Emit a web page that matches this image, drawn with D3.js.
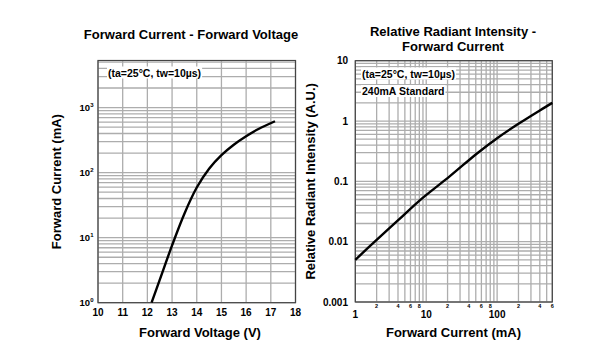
<!DOCTYPE html>
<html><head><meta charset="utf-8">
<script src="https://cdn.jsdelivr.net/npm/d3@7"></script>
<style>
body{margin:0;background:#fff;}
text{font-family:Arial,"Liberation Sans",sans-serif;}
</style></head>
<body><svg id="c" width="597" height="360"></svg>
<script>
// ---- Data ----
const vfVoltage = [12.17, 12.5, 13.0, 13.5, 14.0, 14.5, 15.0, 15.5, 16.0, 16.5, 17.17];
const vfCurrent = [1, 2.24, 7.6, 23.4, 59, 115, 186, 269, 363, 468, 617];
const vfXTicks = [10, 11, 12, 13, 14, 15, 16, 17, 18];
const vfYTicks = [0, 1, 2, 3]; // exponents
const riCurrent = [1, 2, 4.06, 8.2, 21.8, 52, 100, 200, 400, 600];
const riIntensity = [0.005, 0.0107, 0.0229, 0.049, 0.123, 0.29, 0.52, 0.9, 1.5, 2.0];
const riYTicks = [10, 1, 0.1, 0.01, 0.001];
const riYLabels = ["10", "1", "0.1", "0.01", "0.001"];
const riXMajor = [1, 10, 100];
const riXMinor = [2, 4, 6, 8, 20, 40, 60, 80, 200, 400, 600];
const noteText = "(ta=25°C, tw=10µs)";
const noteText2 = "240mA Standard";

const svg = d3.select("#c");
const gridColor = "#adadad";

function logGridValues(lo, hi) {
  const out = [];
  for (let e = Math.floor(Math.log10(lo)); e <= Math.ceil(Math.log10(hi)); e++) {
    for (let m = 1; m < 10; m++) {
      const v = m * Math.pow(10, e);
      if (v >= lo * 0.999 && v <= hi * 1.001) out.push(v);
    }
  }
  return out;
}

// ---- Left chart ----
{
  const L = 98, R = 295.5, T = 60.5, B = 302.7;
  const x = d3.scaleLinear().domain([10, 18]).range([L, R]);
  const y = d3.scaleLog().domain([1, 5300]).range([B, T]);
  const g = svg.append("g");
  g.selectAll(".hg").data(logGridValues(1, 5300)).enter().append("line")
    .attr("x1", L).attr("x2", R).attr("y1", d => y(d)).attr("y2", d => y(d))
    .attr("stroke", gridColor).attr("stroke-width", 1.3);
  g.selectAll(".vg").data(vfXTicks).enter().append("line")
    .attr("x1", d => x(d)).attr("x2", d => x(d)).attr("y1", T).attr("y2", B)
    .attr("stroke", gridColor).attr("stroke-width", 1.3);
  const nt = g.append("text").attr("x", 108).attr("y", 76.5).attr("font-size", 10.5).attr("font-weight", "bold").text(noteText);
  const bb = nt.node().getBBox();
  g.insert("rect", "text").attr("x", bb.x - 1).attr("y", bb.y).attr("width", bb.width + 2).attr("height", bb.height).attr("fill", "#fff");
  g.append("rect").attr("x", L).attr("y", T).attr("width", R - L).attr("height", B - T)
    .attr("fill", "none").attr("stroke", "#444").attr("stroke-width", 1.2);
  const line = d3.line().x(d => x(d[0])).y(d => y(d[1])).curve(d3.curveCatmullRom.alpha(0.5));
  g.append("path").datum(vfVoltage.map((v, i) => [v, vfCurrent[i]]))
    .attr("d", line).attr("fill", "none").attr("stroke", "#000").attr("stroke-width", 2.4);
  g.selectAll(".xl").data(vfXTicks).enter().append("text")
    .attr("x", d => x(d)).attr("y", 316).attr("text-anchor", "middle")
    .attr("font-size", 10).attr("font-weight", "bold").text(d => d);
  vfYTicks.forEach(e => {
    const t = g.append("text").attr("x", 93.5).attr("y", y(Math.pow(10, e)) + 3.5)
      .attr("text-anchor", "end").attr("font-size", 9.5).attr("font-weight", "bold");
    t.append("tspan").text("10");
    t.append("tspan").attr("dy", -4).attr("font-size", 6).text(e);
  });
  g.append("text").attr("x", 191).attr("y", 39).attr("text-anchor", "middle")
    .attr("font-size", 13).attr("font-weight", "bold").text("Forward Current - Forward Voltage");
  g.append("text").attr("x", 200).attr("y", 337).attr("text-anchor", "middle")
    .attr("font-size", 13).attr("font-weight", "bold").text("Forward Voltage (V)");
  g.append("text").attr("transform", `translate(61,${(T + B) / 2}) rotate(-90)`).attr("text-anchor", "middle")
    .attr("font-size", 13).attr("font-weight", "bold").text("Forward Current (mA)");
}

// ---- Right chart ----
{
  const L = 355.3, R = 552.3, T = 60.7, B = 302;
  const x = d3.scaleLog().domain([1, 600]).range([L, R]);
  const y = d3.scaleLog().domain([0.001, 10]).range([B, T]);
  const g = svg.append("g");
  g.selectAll(".hg").data(logGridValues(0.001, 10)).enter().append("line")
    .attr("x1", L).attr("x2", R).attr("y1", d => y(d)).attr("y2", d => y(d))
    .attr("stroke", gridColor).attr("stroke-width", 1.3);
  g.selectAll(".vg").data(logGridValues(1, 600)).enter().append("line")
    .attr("x1", d => x(d)).attr("x2", d => x(d)).attr("y1", T).attr("y2", B)
    .attr("stroke", gridColor).attr("stroke-width", 1.3);
  [[noteText, 77.5], [noteText2, 95]].forEach(([s, yy]) => {
    const t = g.append("text").attr("x", 362).attr("y", yy).attr("font-size", 10.5).attr("font-weight", "bold").text(s);
    const bb = t.node().getBBox();
    g.insert("rect", "text").attr("x", bb.x - 1).attr("y", bb.y).attr("width", bb.width + 2).attr("height", bb.height).attr("fill", "#fff");
  });
  g.append("rect").attr("x", L).attr("y", T).attr("width", R - L).attr("height", B - T)
    .attr("fill", "none").attr("stroke", "#444").attr("stroke-width", 1.2);
  const line = d3.line().x(d => x(d[0])).y(d => y(d[1])).curve(d3.curveCatmullRom.alpha(0.5));
  g.append("path").datum(riCurrent.map((v, i) => [v, riIntensity[i]]))
    .attr("d", line).attr("fill", "none").attr("stroke", "#000").attr("stroke-width", 2.4);
  g.selectAll(".yl").data(riYTicks).enter().append("text")
    .attr("x", 348).attr("y", d => y(d) + 3.5).attr("text-anchor", "end")
    .attr("font-size", 10).attr("font-weight", "bold").text((d, i) => riYLabels[i]);
  g.selectAll(".xl").data(riXMajor).enter().append("text")
    .attr("x", d => x(d)).attr("y", 318).attr("text-anchor", "middle")
    .attr("font-size", 10).attr("font-weight", "bold").text(d => d);
  g.selectAll(".xm").data(riXMinor).enter().append("text")
    .attr("x", d => x(d)).attr("y", 308).attr("text-anchor", "middle")
    .attr("font-size", 5.5).attr("font-weight", "bold")
    .text(d => String(d).charAt(0));
  g.append("text").attr("x", 453).attr("y", 36).attr("text-anchor", "middle")
    .attr("font-size", 13).attr("font-weight", "bold").text("Relative Radiant Intensity -");
  g.append("text").attr("x", 453).attr("y", 50.5).attr("text-anchor", "middle")
    .attr("font-size", 13).attr("font-weight", "bold").text("Forward Current");
  g.append("text").attr("x", 453.5).attr("y", 337).attr("text-anchor", "middle")
    .attr("font-size", 13).attr("font-weight", "bold").text("Forward Current (mA)");
  g.append("text").attr("transform", `translate(315,${(T + B) / 2}) rotate(-90)`).attr("text-anchor", "middle")
    .attr("font-size", 13).attr("font-weight", "bold").text("Relative Radiant Intensity (A.U.)");
}
</script></body></html>
